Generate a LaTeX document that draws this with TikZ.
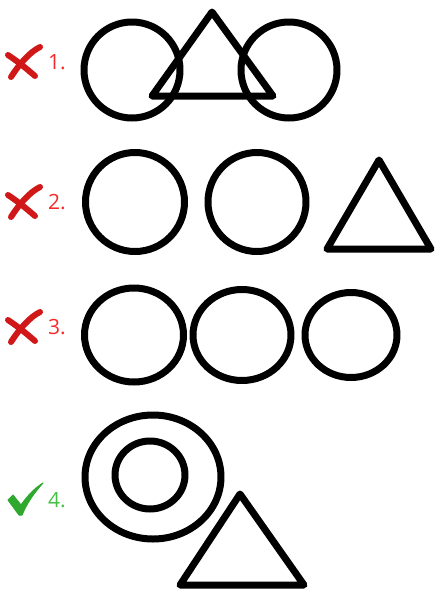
\documentclass[tikz,border=0pt]{standalone}
\usepackage{fontspec}
\setmainfont{Open Sans}
\definecolor{wrongred}{HTML}{F42A2A}
\definecolor{xred}{HTML}{D01818}
\definecolor{rightgreen}{HTML}{44C044}
\definecolor{tickgreen}{HTML}{2EA82E}
\tikzset{
  shape line/.style={draw=black, line width=7pt, line join=round},
  numlabel/.style={anchor=base west, inner sep=0pt, font=\fontsize{21}{21}\selectfont},
  crossmark/.style={draw=xred, line width=6pt, line cap=round},
  tickmark/.style={fill=tickgreen, draw=tickgreen, line width=1pt, line join=round}
}
\begin{document}
\begin{tikzpicture}[x=1pt,y=-1pt]
\useasboundingbox (0,0) rectangle (436,590);
% ---------- row 1 ----------
\draw[crossmark] (8,55) .. controls (20,63) and (28,70) .. (35,76);
\draw[crossmark] (11,77) .. controls (20,63) and (30,52) .. (40,47);
\node[numlabel, text=wrongred] (n1) at (48,69) {1.};
\draw[shape line] (132,70) circle[radius=48];
\draw[shape line] (289,70) circle[radius=48];
\draw[shape line] (212,12) -- (273,96) -- (152,96) -- cycle;
% ---------- row 2 ----------
\draw[crossmark] (8,195) .. controls (20,203) and (28,210) .. (35,216);
\draw[crossmark] (11,217) .. controls (20,203) and (30,192) .. (40,187);
\node[numlabel, text=wrongred] (n2) at (48,209) {2.};
\draw[shape line] (135,202) ellipse[x radius=49.5, y radius=49.5];
\draw[shape line] (257,202) ellipse[x radius=49, y radius=49.5];
\draw[shape line] (379,160) -- (431,249) -- (327,249) -- cycle;
% ---------- row 3 ----------
\draw[crossmark] (8,320) .. controls (20,328) and (28,335) .. (35,341);
\draw[crossmark] (11,342) .. controls (20,328) and (30,317) .. (40,312);
\node[numlabel, text=wrongred] (n3) at (48,334) {3.};
\draw[shape line] (134,335) ellipse[x radius=49.5, y radius=47];
\draw[shape line] (242,335) ellipse[x radius=49, y radius=45.5];
\draw[shape line] (351,335) ellipse[x radius=46, y radius=42.5];
% ---------- row 4 ----------
\draw[tickmark] (8,500) -- (13,495) -- (21,505) .. controls (28,495) and (35,488) .. (43,483)
  .. controls (34,493) and (27,503) .. (22,515) -- (19,515) -- cycle;
\node[numlabel, text=rightgreen] (n4) at (48,507) {4.};
\draw[shape line] (153,477) ellipse[x radius=68, y radius=62];
\draw[shape line] (150,475) ellipse[x radius=35, y radius=34];
\draw[shape line] (240,494) -- (304,585) -- (180,585) -- cycle;
\end{tikzpicture}
\end{document}
